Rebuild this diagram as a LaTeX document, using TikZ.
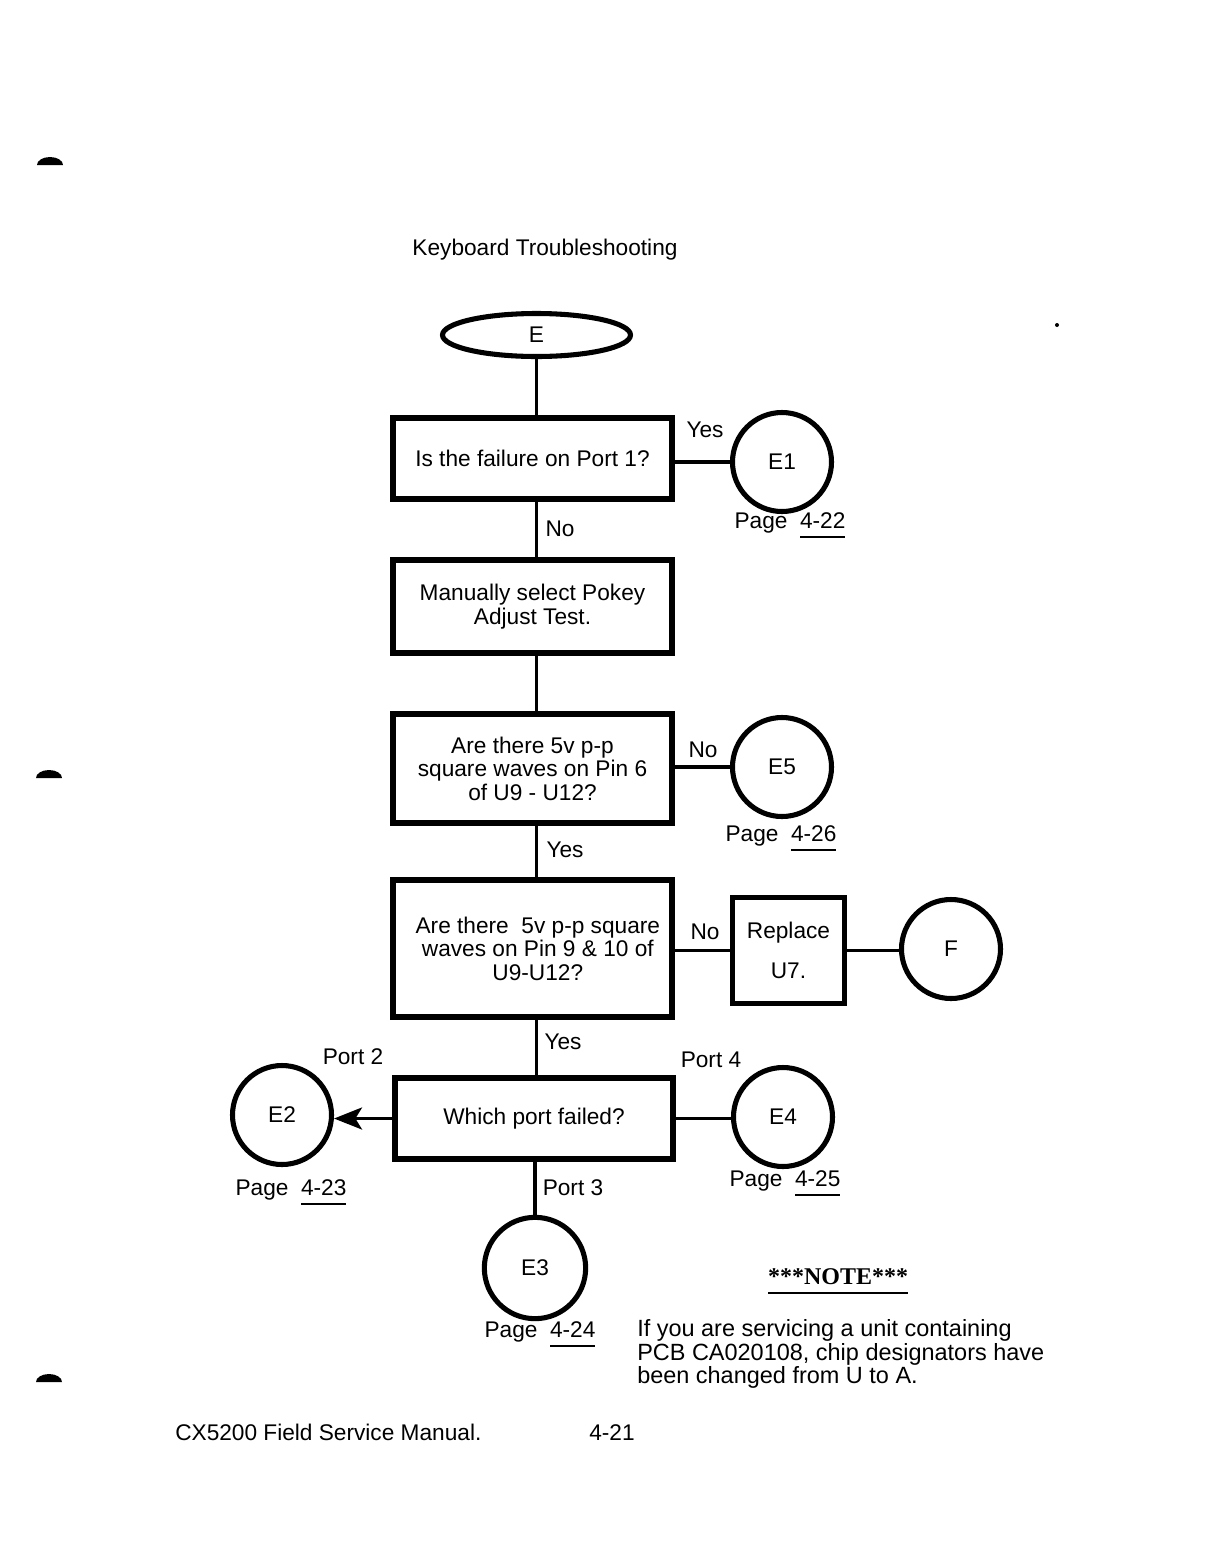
\documentclass[tikz,border=0pt]{standalone}
\usepackage{fontspec}
\setmainfont{Liberation Sans}
\newfontfamily\notefont{Liberation Serif}
\usetikzlibrary{arrows.meta,shapes.geometric}
\newcommand\pgul[1]{\setbox0\hbox{#1}\rlap{\rule[-7pt]{\wd0}{1.3pt}}\box0}
\begin{document}
\begin{tikzpicture}[x=0.75pt,y=-0.75pt,
  every node/.style={font=\fontsize{17}{17.6}\selectfont, inner sep=0pt},
  box/.style={draw, rectangle, line width=4.5pt, align=center, minimum width=209.25pt},
  conn/.style={draw, circle, line width=3.8pt, minimum size=74.25pt},
  wire/.style={line width=2.6pt},
  pg/.style={anchor=center}]
\useasboundingbox (0,0) rectangle (1218,1564);
% punch marks / specks
\fill (37,165) arc[start angle=180,end angle=360,x radius=13,y radius=8] -- cycle;
\fill (36,778) arc[start angle=180,end angle=360,x radius=13,y radius=8] -- cycle;
\fill (36,1382) arc[start angle=180,end angle=360,x radius=13,y radius=8] -- cycle;
\fill (1057,325) circle[radius=2];
% title
\node (title) at (545,250) {Keyboard Troubleshooting};
% nodes
\node[draw, ellipse, line width=3.8pt, minimum width=141pt, minimum height=32.25pt] (E) at (536.5,335) {E};
\node[box, minimum height=60.75pt] (b1) at (532.5,458.5) {Is the failure on Port 1?};
\node[box, minimum height=69.75pt] (b2) at (532.5,606.5) {Manually select Pokey\\Adjust Test.};
\node[box, minimum height=81.75pt] (b3) at (532.5,768.5) {Are there 5v p-p\\square waves on Pin 6\\of U9 - U12?};
\node[box, minimum height=102.75pt] (b4) at (532.5,948.5) {\hspace*{8pt}Are there\ \ 5v p-p square\\\hspace*{8pt}waves on Pin 9 \& 10 of\\\hspace*{8pt}U9-U12?};
\node[draw, rectangle, line width=3.8pt, minimum width=84pt, minimum height=79pt, align=center] (r7) at (788.5,950.5) {Replace\\[12pt]U7.};
\node[box, minimum width=208.5pt, minimum height=60.75pt] (b5) at (534,1118.5) {Which port failed?};
\node[conn] (E1) at (782,462) {E1};
\node[conn] (E5) at (782,767) {E5};
\node[conn] (F) at (951,949) {F};
\node[conn] (E2) at (282,1115) {E2};
\node[conn] (E4) at (783,1117) {E4};
\node[conn, minimum size=76pt] (E3) at (535,1268) {E3};
% connectors
\draw[wire] (E.south) -- (E.south |- b1.north);
\draw[wire] (b1.south -| E.south) -- (b2.north -| E.south);
\draw[wire] (b2.south -| E.south) -- (b3.north -| E.south);
\draw[wire] (b3.south -| E.south) -- (b4.north -| E.south);
\draw[wire] (b4.south -| E.south) -- (b5.north -| E.south);
\draw[wire] (b5.south -| E3.north) -- (E3.north);
\draw[wire] (b1.east |- E1.west) -- (E1.west);
\draw[wire] (b3.east |- E5.west) -- (E5.west);
\draw[wire] (b4.east |- r7.west) -- (r7.west);
\draw[wire] (r7.east) -- (F.west |- r7.east);
\draw[wire] (b5.east) -- (E4.west |- b5.east);
\draw[wire, -{Stealth[length=21pt, width=16.5pt, inset=5pt]}] (b5.west) -- (E2.east |- b5.west);
% labels
\node (l1) at (705,430) {Yes};
\node (l2) at (560,529) {No};
\node (l3) at (703,750) {No};
\node (l4) at (565,850) {Yes};
\node (l5) at (705,932) {No};
\node (l6) at (563,1042) {Yes};
\node (l7) at (353,1057) {Port 2};
\node (l8) at (711,1060) {Port 4};
\node (l9) at (573,1188) {Port 3};
\node[pg] (p1) at (790,525) {Page\ \ \pgul{4-22}};
\node[pg] (p5) at (781,838) {Page\ \ \pgul{4-26}};
\node[pg] (p2) at (291,1192) {Page\ \ \pgul{4-23}};
\node[pg] (p4) at (785,1183) {Page\ \ \pgul{4-25}};
\node[pg] (p3) at (540,1334) {Page\ \ \pgul{4-24}};
% note
\node (note) at (838,1281) {\notefont\bfseries\fontsize{18}{18}\selectfont\pgul{***NOTE***}};
\node[anchor=base west, font=\fontsize{17.6}{17.6}\selectfont] (n1) at (637,1336) {If you are servicing a unit containing};
\node[anchor=base west, font=\fontsize{17.6}{17.6}\selectfont] (n2) at (637,1360) {PCB CA020108, chip designators have};
\node[anchor=base west, font=\fontsize{17.6}{17.6}\selectfont] (n3) at (637,1383) {been changed from U to A.};
% footer
\node[anchor=base west] (foot) at (175,1440) {CX5200 Field Service Manual.};
\node (pgn) at (612,1433) {4-21};
\end{tikzpicture}
\end{document}
